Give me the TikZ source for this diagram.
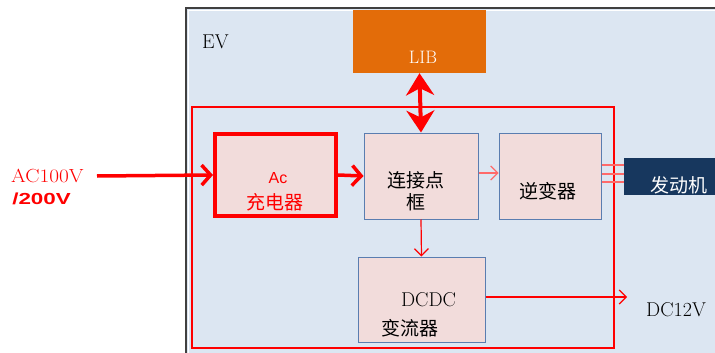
\documentclass[tikz,border=0pt]{standalone}
\usepackage{fontspec}
\newfontfamily\cjk{Noto Sans CJK SC}
\newfontfamily\arialf{Liberation Sans}
\usetikzlibrary{arrows.meta}
\definecolor{evblue}{HTML}{DCE6F2}
\definecolor{pinkf}{HTML}{F2DCDB}
\definecolor{libor}{HTML}{E36C09}
\definecolor{navy}{HTML}{17375E}
\definecolor{boxblue}{HTML}{5A7DB0}
\definecolor{redl}{HTML}{FF0000}
\definecolor{redlight}{HTML}{FF6A6A}
\definecolor{evgray}{HTML}{404040}
\begin{document}
\begin{tikzpicture}[x=1pt,y=-1pt,
  bluebox/.style={draw=boxblue, line width=1pt, fill=pinkf, inner sep=0pt},
  cjktext/.style={font=\cjk\fontsize{19}{23}\selectfont, inner sep=0pt, align=center},
  serift/.style={font=\fontsize{20}{23}\selectfont, inner sep=0pt},
  thickarrow/.style={redl, line width=3.5pt, -{Straight Barb[length=9pt,width=20pt,line width=3.5pt]}},
  thinarrow/.style={line width=1.2pt, -{Straight Barb[length=7pt,width=14pt,line width=1.2pt]}}
]
\useasboundingbox (0,0) rectangle (715,353);
\clip (0,0) rectangle (715,353);
\fill[white] (0,0) rectangle (715,353);
% EV outer box
\draw[evgray, line width=1.5pt, fill=evblue] (186,8) rectangle (740,370);
\draw[white, line width=0.8pt] (188.5,10.5) -- (740,10.5);
\draw[white, line width=0.8pt] (188.5,10.5) -- (188.5,370);
\node[serift, anchor=west] (evt) at (202,42) {EV};
% inner red frame
\draw[redl, line width=1.5pt] (192,107) rectangle (614,348);
% LIB
\node[fill=libor, minimum width=133pt, minimum height=63pt, inner sep=0pt] (lib) at (419.5,41.5) {};
\node[serift, white, font=\fontsize{18}{22}\selectfont] (libt) at (423,57) {LIB};
% boxes
\node[draw=redl, line width=4pt, fill=pinkf, minimum width=121pt, minimum height=82pt, inner sep=0pt] (ac) at (275.5,175) {};
\node[bluebox, minimum width=114pt, minimum height=86pt] (jb) at (421,176) {};
\node[bluebox, minimum width=102pt, minimum height=86pt] (inv) at (550,176) {};
\node[bluebox, minimum width=127pt, minimum height=85pt] (dcdc) at (421.5,299.5) {};
\node[fill=navy, minimum width=116pt, minimum height=37pt, inner sep=0pt] (eng) at (682,176.5) {};
% texts in boxes
\node[font=\arialf\fontsize{16}{20}\selectfont, text=redl, inner sep=0pt] (act1) at (278,178) {Ac};
\node[cjktext, text=redl] (act2) at (275,202) {充电器};
\node[cjktext] (jbt1) at (415.5,180) {连接点};
\node[cjktext] (jbt2) at (416,202) {框};
\node[cjktext] (invt) at (548,191) {逆变器};
\node[serift] (dcdct1) at (428.5,300) {DCDC};
\node[cjktext] (dcdct2) at (410,328) {变流器};
\node[cjktext, text=white] (engt) at (679,185) {发动机};
% external labels
\node[serift, text=redl, anchor=west, font=\fontsize{19}{22}\selectfont, xscale=1.12] (acv1) at (11,176) {AC100V};
\node[text=redl, anchor=west, inner sep=0pt, font=\arialf\bfseries\fontsize{16}{20}\selectfont, xscale=1.4] (acv2) at (12,199) {/200V};
\node[serift, anchor=west] (dc12t) at (646,310) {DC12V};
\coordinate (acin) at (97,176);
\coordinate (dc12) at (627,297);
% connectors
\draw[thickarrow] (acin) -- (ac.west);
\draw[thickarrow] (ac.east) -- (jb.west);
\draw[redl, line width=4pt, {Stealth[length=22pt,width=28pt,inset=7pt]}-{Stealth[length=22pt,width=28pt,inset=7pt]}] (lib.south) -- (jb.north);
\draw[thinarrow, redlight] ([yshift=3pt]jb.east) -- ([yshift=3pt]inv.west);
\draw[thinarrow, redl] (jb.south) -- (dcdc.north);
\draw[thinarrow, redl] ([yshift=2.5pt]dcdc.east) -- (dc12);
\foreach \o in {11,2,-6}{
  \draw[redlight, line width=1.2pt] ([yshift=\o pt]inv.east) -- ([yshift=\o pt]inv.east -| eng.west);
}
\end{tikzpicture}
\end{document}
